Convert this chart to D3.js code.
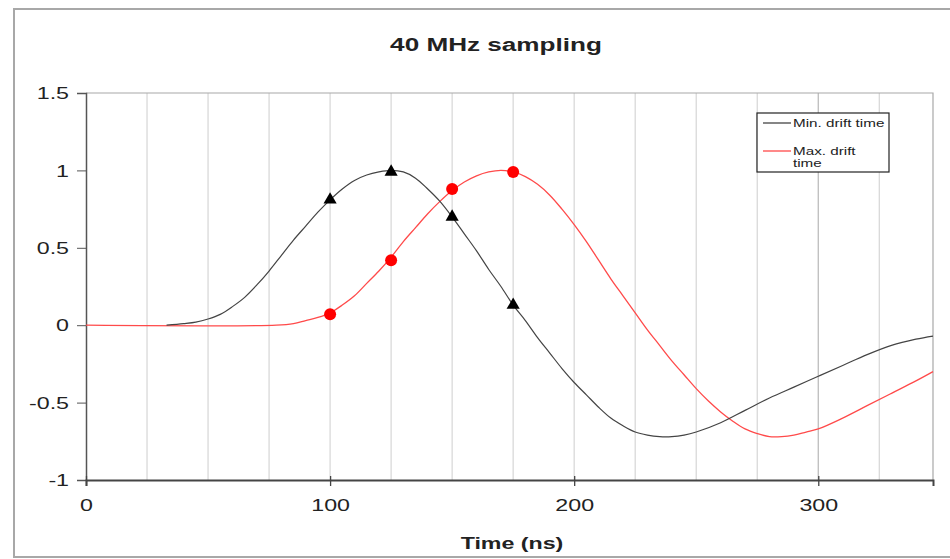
<!DOCTYPE html>
<html><head><meta charset="utf-8">
<script src="https://cdn.jsdelivr.net/npm/d3@7"></script>
<style>body{margin:0;background:#fff}text{font-family:"Liberation Sans",Arial,sans-serif;fill:#222}</style>
</head><body><svg id="c" width="950" height="559"></svg>
<script>
const title = "40 MHz sampling";
const xLabel = "Time (ns)";
const seriesNames = ["Min. drift time", "Max. drift time"];
const xTicks = [0, 100, 200, 300];
const yTicks = [-1, -0.5, 0, 0.5, 1, 1.5];
const gridX = [25, 50, 75, 100, 125, 150, 175, 200, 225, 250, 275, 300, 325];

const minT = [33,40,45,50,55,60,65,70,75,80,85,90,95,100,105,110,115,120,125,130,135,140,145,150,155,160,165,170,175,180,185,190,195,200,205,210,215,220,225,230,235,240,245,250,260,270,280,290,300,310,320,330,340,347];
const minV = [0,0.01,0.02,0.04,0.07,0.12,0.18,0.26,0.35,0.45,0.55,0.64,0.73,0.81,0.88,0.935,0.97,0.99,1.0,0.99,0.95,0.88,0.80,0.70,0.59,0.48,0.36,0.25,0.13,0.03,-0.08,-0.18,-0.28,-0.37,-0.45,-0.53,-0.60,-0.65,-0.69,-0.71,-0.72,-0.72,-0.71,-0.69,-0.63,-0.55,-0.47,-0.40,-0.33,-0.26,-0.19,-0.13,-0.09,-0.07];

const maxT = [0,78,85,90,95,100,105,110,115,120,125,130,135,140,145,150,155,160,165,170,175,180,185,190,195,200,205,210,215,220,225,230,235,240,245,250,255,260,265,270,275,280,285,290,295,300,310,320,330,340,347];
const maxV = [0,0,0.01,0.03,0.05,0.08,0.13,0.19,0.27,0.35,0.44,0.54,0.63,0.72,0.80,0.87,0.925,0.965,0.99,1.0,0.99,0.96,0.91,0.84,0.75,0.65,0.54,0.42,0.30,0.19,0.08,-0.03,-0.13,-0.23,-0.32,-0.41,-0.49,-0.56,-0.62,-0.67,-0.70,-0.72,-0.72,-0.71,-0.69,-0.67,-0.60,-0.52,-0.44,-0.36,-0.30];

const sampleT = [100, 125, 150, 175];
const minSamples = [0.81, 0.99, 0.70, 0.13];
const maxSamples = [0.07, 0.42, 0.88, 0.99];

const svg = d3.select("#c");
const L = 86, R = 933, T = 93, B = 480;
const x = d3.scaleLinear().domain([0, 347]).range([L, R]);
const y = d3.scaleLinear().domain([-1, 1.5]).range([B, T]);

svg.append("rect").attr("width", 950).attr("height", 559).attr("fill", "#fff");
// outer frame
svg.append("rect").attr("x", 14).attr("y", 9).attr("width", 960).attr("height", 548)
  .attr("fill", "none").attr("stroke", "#a8a8a8").attr("stroke-width", 2);

// grid
svg.append("g").selectAll("line").data(gridX).join("line")
  .attr("x1", d => x(d)).attr("x2", d => x(d)).attr("y1", T).attr("y2", B)
  .attr("stroke", d => d === 300 ? "#bdbdbd" : "#d9d9d9").attr("stroke-width", 1.3);
// plot border top/right
svg.append("path").attr("d", `M${L},${T}H${R}V${B}`).attr("fill", "none").attr("stroke", "#a8a8a8").attr("stroke-width", 1.2);

// axes
const yAxis = d3.axisLeft(y).tickValues(yTicks).tickSize(9).tickPadding(8).tickFormat(d => String(d));
const gy = svg.append("g").attr("transform", `translate(${L},0)`).call(yAxis);
gy.select(".domain").attr("stroke", "#555").attr("stroke-width", 1.5);
gy.selectAll(".tick line").attr("stroke", "#555");
gy.selectAll("text").attr("class", "s").style("font-size", "16px").attr("fill", "#222").attr("dy", "0.36em");

const xAxis = d3.axisBottom(x).tickValues(xTicks).tickSize(6).tickPadding(14);
const gx = svg.append("g").attr("transform", `translate(0,${B})`).call(xAxis);
gx.select(".domain").attr("stroke", "#444").attr("stroke-width", 2);
gx.selectAll(".tick line").attr("stroke", "#444").attr("y1", -4).attr("stroke-width", 1.3);
gx.selectAll("text").attr("class", "s").style("font-size", "16px").attr("fill", "#222");

// lines
const line = d3.line().x(d => x(d[0])).y(d => y(d[1])).curve(d3.curveCatmullRom);
svg.append("path").datum(maxT.map((t, i) => [t, maxV[i]])).attr("d", line)
  .attr("fill", "none").attr("stroke", "#ff4a4a").attr("stroke-width", 1.3);
svg.append("path").datum(minT.map((t, i) => [t, minV[i]])).attr("d", line)
  .attr("fill", "none").attr("stroke", "#444").attr("stroke-width", 1.2);

// markers
const tri = d3.symbol().type(d3.symbolTriangle).size(75);
svg.append("g").selectAll("path").data(sampleT.map((t, i) => [t, minSamples[i]])).join("path")
  .attr("d", tri).attr("transform", d => `translate(${x(d[0])},${y(d[1])})`).attr("fill", "#000");
svg.append("g").selectAll("circle").data(sampleT.map((t, i) => [t, maxSamples[i]])).join("circle")
  .attr("cx", d => x(d[0])).attr("cy", d => y(d[1])).attr("r", 6).attr("fill", "#ff0000");

// title & axis title
svg.append("text").attr("class", "s").attr("x", 496).attr("y", 51).attr("text-anchor", "middle")
  .style("font-size", "18px").style("font-weight", "bold").text(title);
svg.append("text").attr("class", "s").attr("x", 512).attr("y", 549).attr("text-anchor", "middle")
  .style("font-size", "16px").style("font-weight", "bold").text(xLabel);

// legend
const lg = svg.append("g");
lg.append("rect").attr("x", 757).attr("y", 113).attr("width", 132).attr("height", 59)
  .attr("fill", "#fff").attr("stroke", "#222").attr("stroke-width", 1.2);
lg.append("line").attr("x1", 763).attr("x2", 791).attr("y1", 123).attr("y2", 123).attr("stroke", "#444").attr("stroke-width", 1.3);
lg.append("line").attr("x1", 763).attr("x2", 791).attr("y1", 151).attr("y2", 151).attr("stroke", "#ff4a4a").attr("stroke-width", 1.3);
lg.append("text").attr("class", "s").attr("x", 793).attr("y", 127).style("font-size", "10.5px").attr("fill", "#333").text(seriesNames[0]);
const t2 = lg.append("text").attr("x", 793).attr("y", 155).style("font-size", "10.5px").attr("fill", "#333");
const words = seriesNames[1].split(" ");
t2.append("tspan").attr("class", "s").attr("x", 793).text(words.slice(0, 2).join(" "));
t2.append("tspan").attr("class", "s").attr("x", 793).attr("dy", 12).text(words[2]);

// horizontal stretch to match the reference's wide glyphs
svg.selectAll(".s").each(function () {
  const w = this.getComputedTextLength();
  d3.select(this).attr("textLength", w * 1.45).attr("lengthAdjust", "spacingAndGlyphs");
});
</script></body></html>
